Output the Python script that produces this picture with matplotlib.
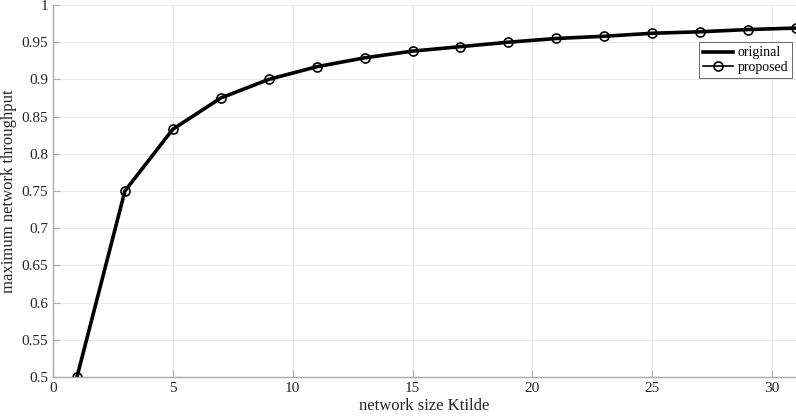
import matplotlib.pyplot as plt

# network size (odd values) and throughput
K = [1, 3, 5, 7, 9, 11, 13, 15, 17, 19, 21, 23, 25, 27, 29, 31]
original = [0.5, 0.75, 0.833, 0.875, 0.9, 0.917, 0.929, 0.938,
            0.944, 0.95, 0.955, 0.958, 0.962, 0.964, 0.967, 0.969]
proposed = [0.5, 0.75, 0.833, 0.875, 0.9, 0.917, 0.929, 0.938,
            0.944, 0.95, 0.955, 0.958, 0.962, 0.964, 0.967, 0.969]

plt.rcParams['font.family'] = ['Liberation Serif', 'DejaVu Serif']

fig = plt.figure(figsize=(7.96, 4.19), dpi=100)
ax = fig.add_axes([53/796, 42/419, 743/419*419/796, 372/419])

ax.plot(K, original, color='black', linewidth=2.6, label='original')
ax.plot(K, proposed, color='black', linewidth=1.2, marker='o',
        markersize=6.5, markerfacecolor='none', markeredgewidth=1.2,
        label='proposed')

ax.set_xlim(0, 31)
ax.set_ylim(0.5, 1)
ax.set_xticks(range(0, 31, 5))
ax.set_yticks([0.5, 0.55, 0.6, 0.65, 0.7, 0.75, 0.8, 0.85, 0.9, 0.95, 1])
ax.set_yticklabels(['0.5', '0.55', '0.6', '0.65', '0.7', '0.75', '0.8',
                    '0.85', '0.9', '0.95', '1'])
ax.grid(True, color='#ebebeb', linewidth=0.8)
ax.set_axisbelow(True)

for side in ['top', 'right']:
    ax.spines[side].set_visible(False)
for side in ['left', 'bottom']:
    ax.spines[side].set_color('#aaaaaa')
    ax.spines[side].set_linewidth(1.0)
ax.tick_params(direction='in', colors='#aaaaaa', labelcolor='#262626',
               labelsize=11, length=5)

ax.set_xlabel('network size Ktilde', fontsize=12, color='#262626', labelpad=2)
ax.set_ylabel('maximum network throughput', fontsize=12, color='#262626',
              labelpad=3)

leg = ax.legend(loc='upper right', bbox_to_anchor=(0.995, 0.9), fontsize=10,
                frameon=True, fancybox=False, borderpad=0.3, handlelength=2.2,
                handletextpad=0.3, labelspacing=0.1, borderaxespad=0)
leg.get_frame().set_edgecolor('#262626')
leg.get_frame().set_linewidth(0.6)

fig.savefig('out.png', dpi=100)
